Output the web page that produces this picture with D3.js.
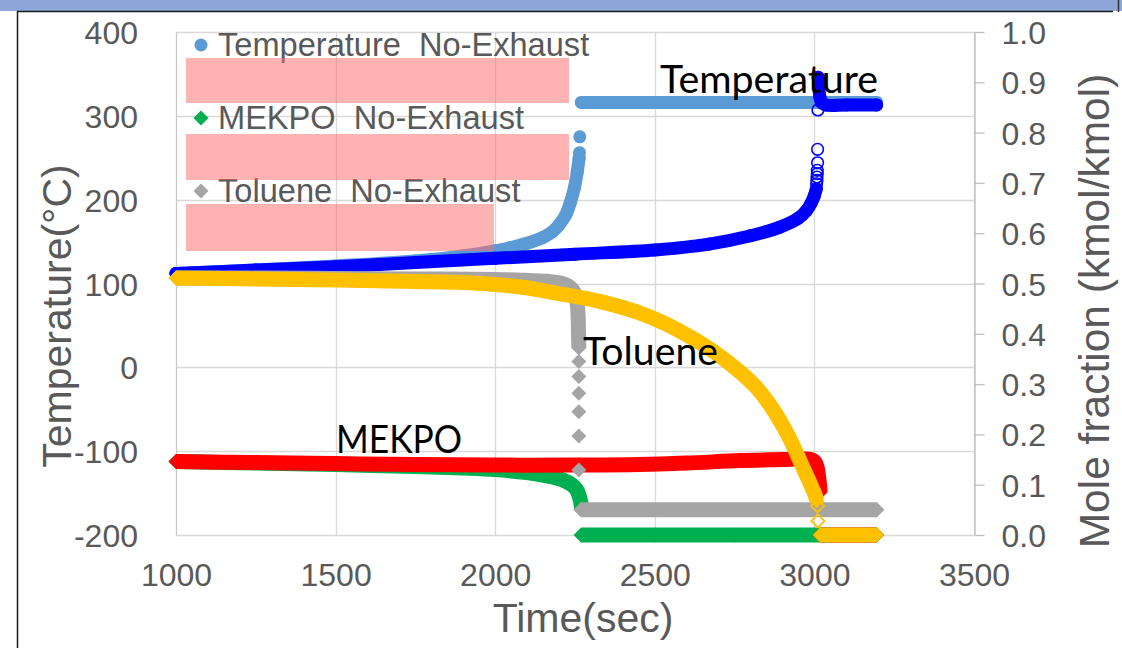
<!DOCTYPE html>
<html>
<head>
<meta charset="utf-8">
<script src="https://cdn.jsdelivr.net/npm/d3@7"></script>
<style>
  html, body { margin: 0; padding: 0; background: #ffffff; }
  svg { display: block; }
  .sans { font-family: "Liberation Sans", Arial, sans-serif; }
</style>
</head>
<body>
<svg id="chart" width="1122" height="648"></svg>
<script>
// ---------- axis ticks ----------
const timeTicks = [1000, 1500, 2000, 2500, 3000, 3500];
const timeTickLabels = ["1000", "1500", "2000", "2500", "3000", "3500"];
const tempTicks = [-200, -100, 0, 100, 200, 300, 400];
const tempTickLabels = ["-200", "-100", "0", "100", "200", "300", "400"];
const moleTicks = [0, 0.1, 0.2, 0.3, 0.4, 0.5, 0.6, 0.7, 0.8, 0.9, 1.0];
const moleTickLabels = ["0.0", "0.1", "0.2", "0.3", "0.4", "0.5", "0.6", "0.7", "0.8", "0.9", "1.0"];

// ---------- series: [time (s), value]; null splits a continuous run ----------
// Temperature, no exhaust (°C)
const tempNoExhaust = [
  [1000, 112], [1250, 116], [1500, 121], [1750, 127], [1900, 133], [2000, 139],
  [2050, 143], [2100, 148], [2150, 155], [2180, 162], [2200, 170], [2220, 181],
  [2235, 196], [2248, 214], [2257, 233], [2263, 250],
  null,
  [2270, 316], [2500, 316], [2750, 316], [3000, 316], [3195, 316]
];
const tempNoExhaustDots = [[2264, 256], [2265, 275]];

// Temperature, with exhaust (°C)
const tempExhaust = [
  [1000, 112], [1250, 116], [1500, 120], [1750, 125], [2000, 130], [2250, 135],
  [2500, 140], [2670, 147], [2800, 157], [2890, 167], [2950, 178], [2975, 187],
  [2990, 196], [3000, 205], [3006, 213],
  null,
  [3012, 346], [3014, 334], [3017, 323], [3022, 316], [3035, 313], [3100, 313], [3195, 313]
];
const tempExhaustDots = [
  [3007, 219], [3008, 223], [3008, 227], [3009, 231], [3009, 235],
  [3010, 244], [3010, 260], [3011, 307]
];

// MEKPO mole fraction, no exhaust
const mekpoNoExhaust = [
  [1000, 0.146], [1250, 0.143], [1500, 0.140], [1750, 0.136], [1900, 0.133],
  [2000, 0.130], [2100, 0.124], [2150, 0.119], [2210, 0.110], [2240, 0.100],
  [2255, 0.090], [2263, 0.078], [2268, 0.065], [2271, 0.052],
  null,
  [2269, 0], [2500, 0], [2750, 0], [3000, 0], [3195, 0]
];

// MEKPO mole fraction, with exhaust
const mekpoExhaust = [
  [1000, 0.146], [1250, 0.144], [1500, 0.142], [1750, 0.140], [2000, 0.139],
  [2250, 0.139], [2450, 0.140], [2600, 0.143], [2767, 0.148], [2900, 0.150],
  [2960, 0.151], [2990, 0.150], [3002, 0.145], [3009, 0.133], [3013, 0.117],
  [3016, 0.100], [3018, 0.085],
  null,
  [3018, 0], [3195, 0]
];

// Toluene mole fraction, no exhaust
const tolueneNoExhaust = [
  [1000, 0.511], [1250, 0.511], [1500, 0.510], [1750, 0.509], [2000, 0.508],
  [2100, 0.506], [2170, 0.504], [2210, 0.500], [2235, 0.492], [2250, 0.479],
  [2257, 0.460], [2260, 0.430], [2261, 0.400], [2262, 0.372],
  null,
  [2268, 0.05], [2500, 0.05], [2750, 0.05], [3000, 0.05], [3196, 0.05]
];
const tolueneNoExhaustDots = [
  [2262, 0.345], [2262, 0.315], [2262, 0.282], [2262, 0.245], [2262, 0.197], [2262, 0.129]
];

// Toluene mole fraction, with exhaust
const tolueneExhaust = [
  [1000, 0.511], [1250, 0.509], [1500, 0.507], [1750, 0.504], [1900, 0.502],
  [2000, 0.498], [2080, 0.493], [2200, 0.480], [2330, 0.464], [2450, 0.442],
  [2530, 0.421], [2610, 0.394], [2690, 0.362], [2767, 0.324], [2820, 0.292],
  [2870, 0.250], [2920, 0.195], [2960, 0.140], [2985, 0.105], [3000, 0.083],
  [3008, 0.068],
  null,
  [3018, 0], [3195, 0]
];
const tolueneExhaustDots = [[3010, 0.058], [3011, 0.028]];

const legendLabels = ["Temperature  No-Exhaust", "MEKPO  No-Exhaust", "Toluene  No-Exhaust"];
const annotationLabels = ["Temperature", "Toluene", "MEKPO"];

// ---------- layout ----------
const W = 1122, H = 648;
const plot = { left: 176, right: 974, top: 32, bottom: 535 };
const textGray = "#595959";
const gridGray = "#d9d9d9";

const svg = d3.select("#chart");

const x = d3.scaleLinear().domain([1000, 3500]).range([plot.left, plot.right]);
const yT = d3.scaleLinear().domain([-200, 400]).range([plot.bottom, plot.top]);
const yM = d3.scaleLinear().domain([0, 1]).range([plot.bottom, plot.top]);

// window frame around the slide
svg.append("rect").attr("x", 0).attr("y", 0).attr("width", W).attr("height", 11).attr("fill", "#8ea5d9");
svg.append("line").attr("x1", 17).attr("x2", 1113).attr("y1", 11.5).attr("y2", 11.5)
  .attr("stroke", "#1a1a1a").attr("stroke-width", 1.5);
svg.append("line").attr("x1", 17.5).attr("x2", 17.5).attr("y1", 11).attr("y2", H)
  .attr("stroke", "#1a1a1a").attr("stroke-width", 1.5);
svg.append("line").attr("x1", 1118.5).attr("x2", 1118.5).attr("y1", 0).attr("y2", 12)
  .attr("stroke", "#333").attr("stroke-width", 1.5);

// gridlines
const grid = svg.append("g");
grid.selectAll("line.h").data(tempTicks).join("line")
  .attr("x1", plot.left).attr("x2", plot.right)
  .attr("y1", d => Math.round(yT(d)) + 0.5).attr("y2", d => Math.round(yT(d)) + 0.5)
  .attr("stroke", gridGray).attr("stroke-width", 1.3);
grid.selectAll("line.v").data(timeTicks).join("line")
  .attr("x1", d => Math.round(x(d)) + 0.5).attr("x2", d => Math.round(x(d)) + 0.5)
  .attr("y1", plot.top).attr("y2", plot.bottom)
  .attr("stroke", d => d === 1000 ? "#c8c8c8" : gridGray).attr("stroke-width", 1.3);

// left axis (temperature)
const leftAxis = svg.append("g").attr("class", "sans")
  .attr("transform", `translate(${plot.left},0)`)
  .call(d3.axisLeft(yT).tickValues(tempTicks).tickSize(0).tickPadding(38)
    .tickFormat((d, i) => tempTickLabels[i]));
leftAxis.select(".domain").remove();
leftAxis.selectAll("text").attr("font-size", 32).attr("fill", textGray)
  .attr("font-family", "Liberation Sans, Arial, sans-serif").attr("dy", "0.36em");

// right axis (mole fraction)
const rightAxis = svg.append("g").attr("class", "sans")
  .attr("transform", `translate(${plot.right + 0.5},0)`)
  .call(d3.axisRight(yM).tickValues(moleTicks).tickSize(10).tickSizeOuter(0).tickPadding(17)
    .tickFormat((d, i) => moleTickLabels[i]));
rightAxis.select(".domain").attr("stroke", "#bfbfbf").attr("stroke-width", 1.3);
rightAxis.selectAll("line").attr("stroke", "#bfbfbf").attr("stroke-width", 1.3);
rightAxis.selectAll("text").attr("font-size", 32).attr("fill", textGray)
  .attr("font-family", "Liberation Sans, Arial, sans-serif").attr("dy", "0.36em");

// bottom axis (time)
const bottomAxis = svg.append("g")
  .attr("transform", `translate(0,${plot.bottom})`)
  .call(d3.axisBottom(x).tickValues(timeTicks).tickSize(0).tickPadding(28)
    .tickFormat((d, i) => timeTickLabels[i]));
bottomAxis.select(".domain").remove();
bottomAxis.selectAll("text").attr("font-size", 32).attr("fill", textGray)
  .attr("font-family", "Liberation Sans, Arial, sans-serif");

// axis titles
svg.append("text").attr("class", "sans")
  .attr("transform", "translate(71,316) rotate(-90)")
  .attr("text-anchor", "middle").attr("font-size", 41).attr("fill", textGray)
  .text("Temperature(°C)");
svg.append("text").attr("class", "sans")
  .attr("transform", "translate(1109,311) rotate(-90)")
  .attr("text-anchor", "middle").attr("font-size", 42.5).attr("fill", textGray)
  .text("Mole fraction (kmol/kmol)");
svg.append("text").attr("class", "sans")
  .attr("x", 583).attr("y", 632)
  .attr("text-anchor", "middle").attr("font-size", 41).attr("fill", textGray)
  .text("Time(sec)");

// ---------- series ----------
const diamond = r => `M0,${-r}L${r},0L0,${r}L${-r},0Z`;

const series = [
  { band: tempNoExhaust, dots: tempNoExhaustDots, y: yT, color: "#5b9bd5", shape: "circle", dotHollow: false },
  { band: tempExhaust, dots: tempExhaustDots, y: yT, color: "#0000ff", shape: "circle", dotHollow: true },
  { band: mekpoNoExhaust, dots: [], y: yM, color: "#00b050", shape: "diamond", dotHollow: false },
  { band: mekpoExhaust, dots: [], y: yM, color: "#ff0000", shape: "diamond", dotHollow: false },
  { band: tolueneNoExhaust, dots: tolueneNoExhaustDots, y: yM, color: "#a5a5a5", shape: "diamond", dotHollow: false },
  { band: tolueneExhaust, dots: tolueneExhaustDots, y: yM, color: "#ffc000", shape: "diamond", dotHollow: true }
];

const markR = { circle: 6.5, diamond: 7.5 };
const plotG = svg.append("g");

function drawMarker(sel, s, hollow) {
  if (s.shape === "circle") {
    sel.append("circle").attr("r", hollow ? 5.8 : markR.circle)
      .attr("fill", hollow ? "none" : s.color)
      .attr("stroke", hollow ? s.color : "none").attr("stroke-width", 1.6);
  } else {
    sel.append("path").attr("d", diamond(hollow ? 6.6 : markR.diamond))
      .attr("fill", hollow ? "none" : s.color)
      .attr("stroke", hollow ? s.color : "none").attr("stroke-width", 1.8);
  }
}

series.forEach(s => {
  const g = plotG.append("g");
  const line = d3.line()
    .defined(d => d !== null)
    .x(d => x(d[0])).y(d => s.y(d[1]))
    .curve(d3.curveCatmullRom.alpha(0.5));
  g.append("path").attr("d", line(s.band))
    .attr("fill", "none").attr("stroke", s.color)
    .attr("stroke-width", s.shape === "circle" ? markR.circle * 2 : markR.diamond * 2)
    .attr("stroke-linejoin", "round")
    .attr("stroke-linecap", s.shape === "circle" ? "round" : "butt");
  g.selectAll("g.pt").data(s.band.filter(d => d !== null)).join("g")
    .attr("transform", d => `translate(${x(d[0])},${s.y(d[1])})`)
    .each(function () { drawMarker(d3.select(this), s, false); });
  g.selectAll("g.dot").data(s.dots).join("g")
    .attr("transform", d => `translate(${x(d[0])},${s.y(d[1])})`)
    .each(function () { drawMarker(d3.select(this), s, s.dotHollow); });
});

// ---------- legend ----------
const legendStyle = [series[0], series[2], series[4]];
const legendG = svg.append("g").attr("class", "sans");
legendLabels.forEach((label, i) => {
  const baseY = 56 + i * 73;
  const m = legendG.append("g").attr("transform", `translate(201,${baseY - 11})`);
  drawMarker(m, legendStyle[i], false);
  legendG.append("text").attr("x", 218).attr("y", baseY)
    .attr("font-size", 32.6).attr("fill", textGray)
    .style("white-space", "pre").text(label);
});

// masking boxes laid over the legend area
const boxes = [
  { x0: 186, x1: 569, y0: 58, y1: 103 },
  { x0: 186, x1: 569, y0: 134, y1: 180 },
  { x0: 186, x1: 494, y0: 204, y1: 251 }
];
svg.append("g").selectAll("rect").data(boxes).join("rect")
  .attr("x", d => d.x0).attr("y", d => d.y0)
  .attr("width", d => d.x1 - d.x0).attr("height", d => d.y1 - d.y0)
  .attr("fill", "#ff6b6b").attr("fill-opacity", 0.52);

// ---------- in-plot annotations ----------
const annotationPos = [
  { x: 660, y: 93, len: 218 },
  { x: 583, y: 365, len: 135 },
  { x: 336, y: 453, len: 126 }
];
svg.append("g").selectAll("text").data(annotationLabels).join("text")
  .attr("x", (d, i) => annotationPos[i].x).attr("y", (d, i) => annotationPos[i].y)
  .attr("textLength", (d, i) => annotationPos[i].len).attr("lengthAdjust", "spacingAndGlyphs")
  .attr("font-family", "Lato, 'Open Sans', sans-serif").attr("font-size", 38)
  .attr("fill", "#000").text(d => d);
</script>
</body>
</html>
